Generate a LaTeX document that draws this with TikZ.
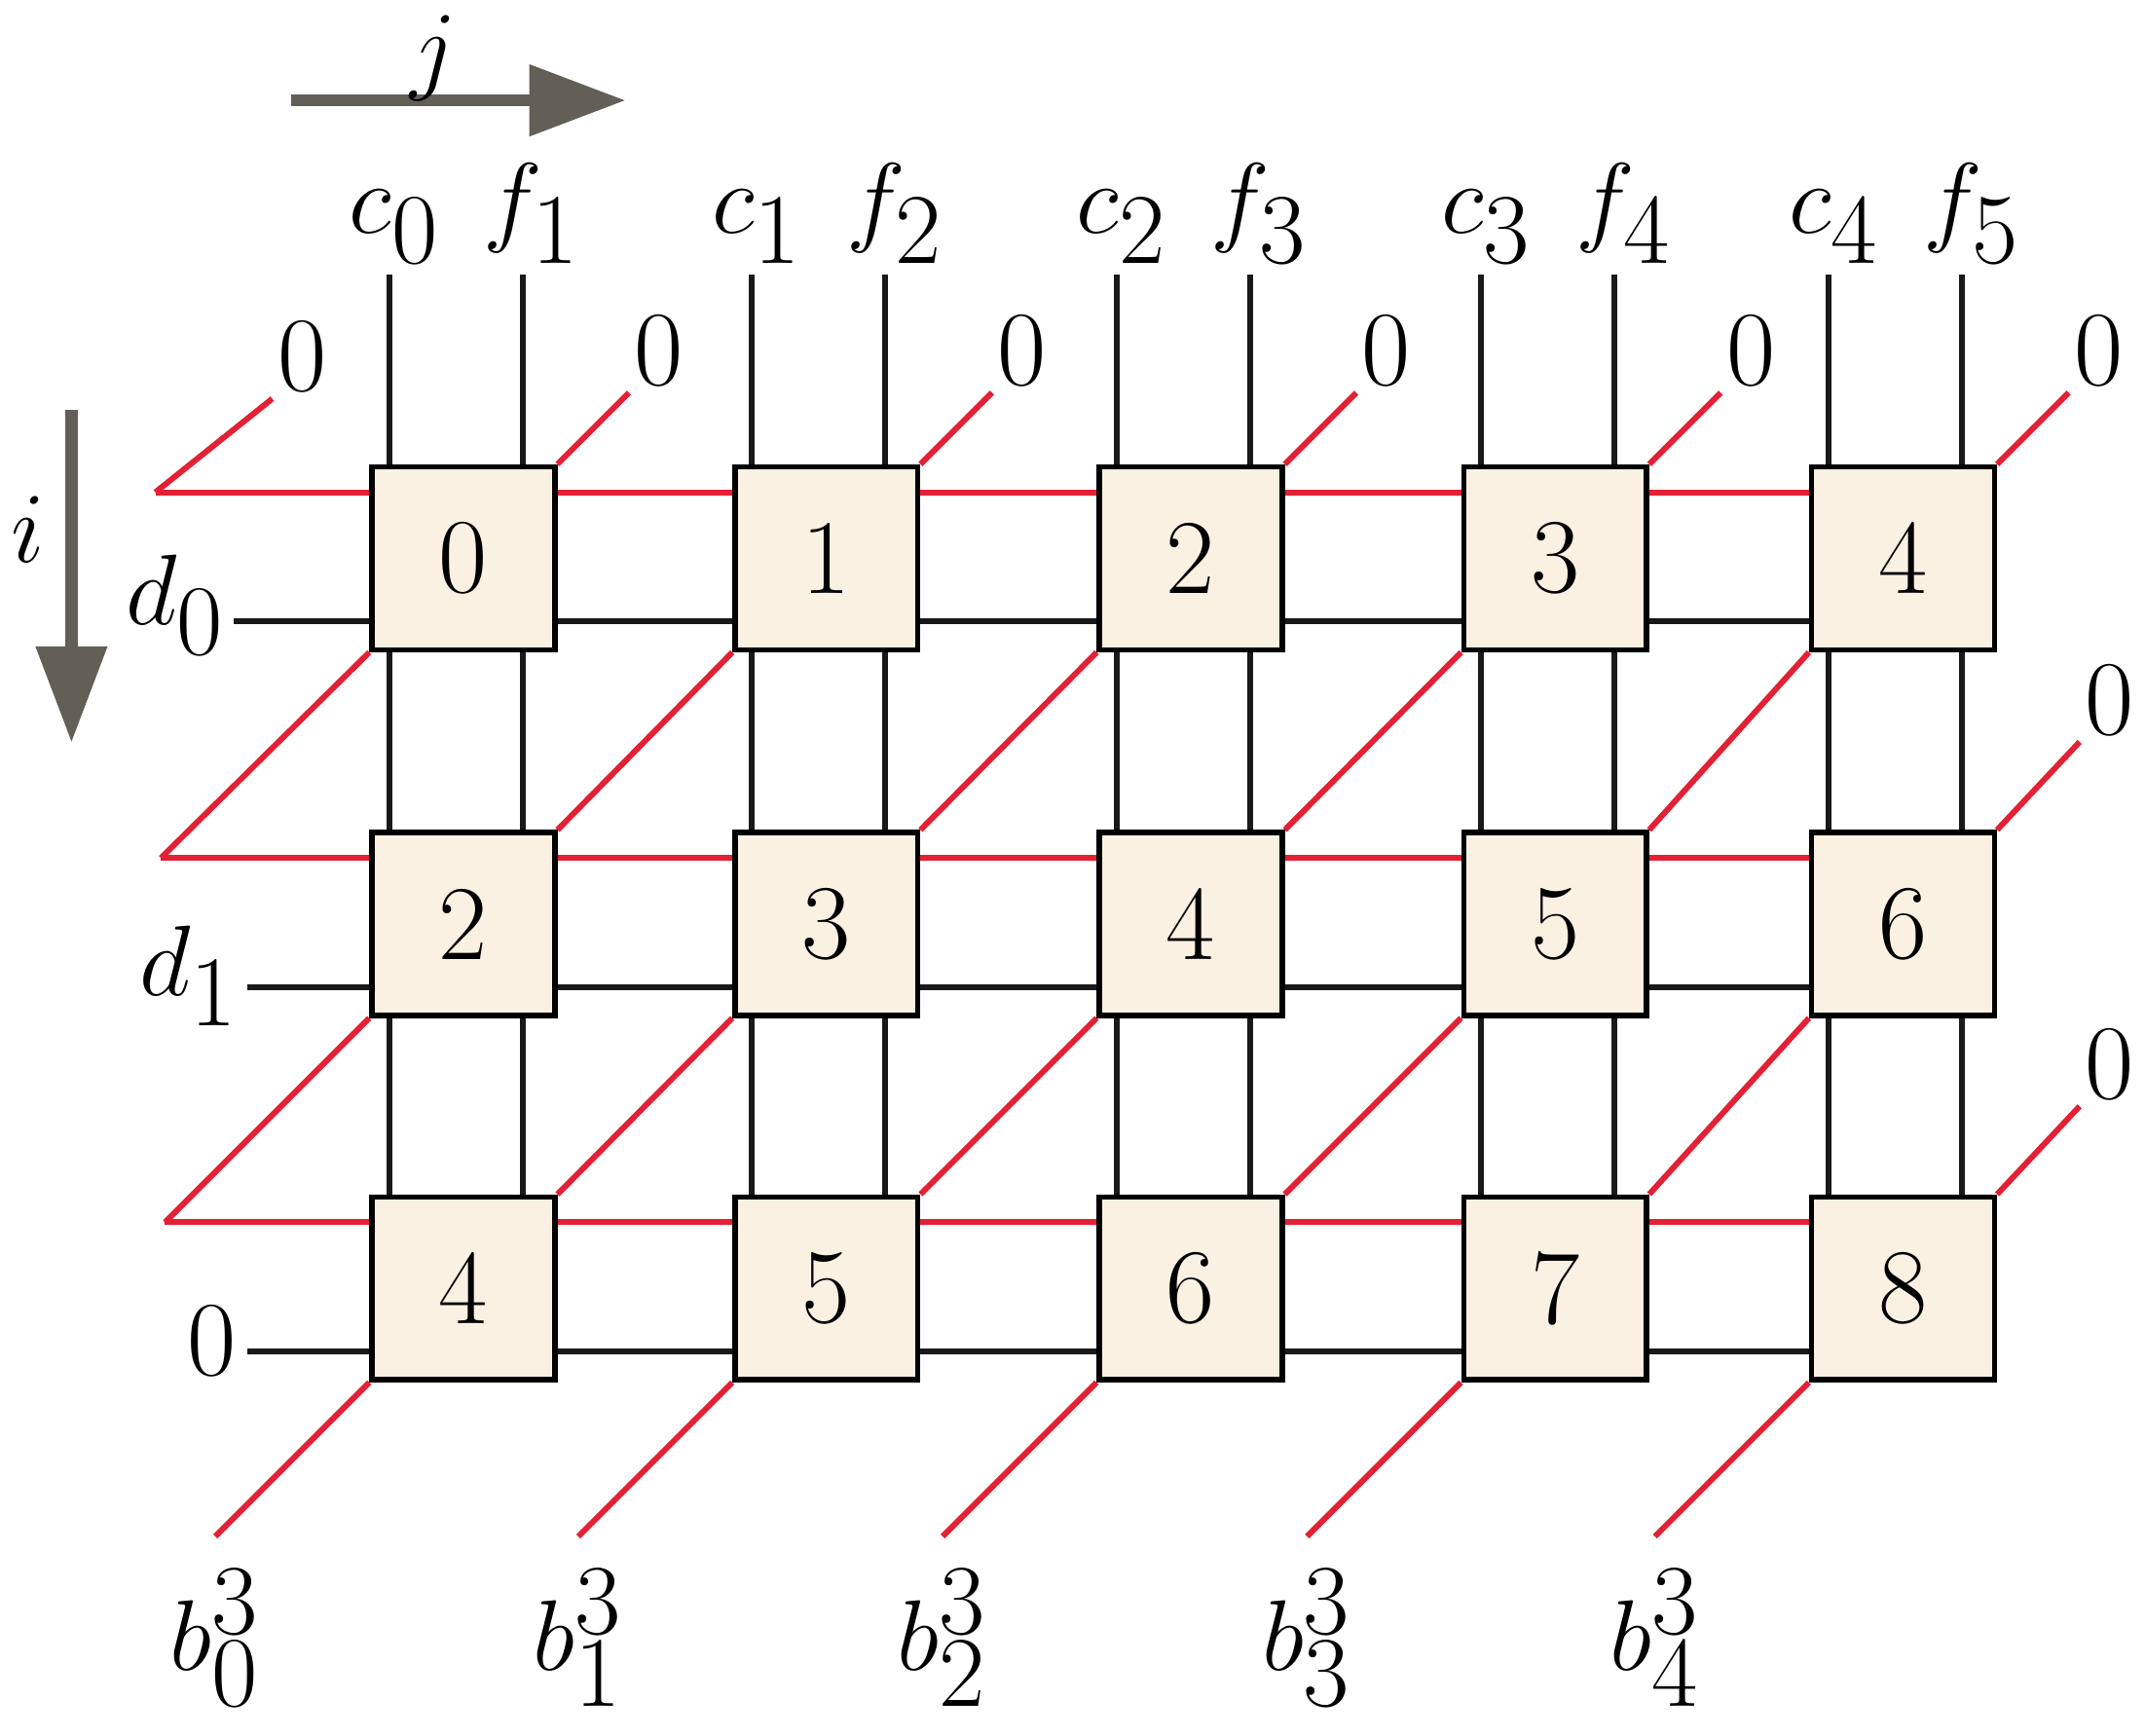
\documentclass[tikz,border=0pt]{standalone}
\usetikzlibrary{arrows.meta,backgrounds}
\definecolor{boxfill}{RGB}{250,241,226}
\definecolor{redw}{RGB}{228,32,52}
\definecolor{arrgray}{RGB}{98,96,86}
\tikzstyle{cell}=[draw,line width=1.1pt,fill=boxfill,minimum size=13.3mm,inner sep=0pt,font=\fontsize{22}{26}\selectfont]
\tikzstyle{wire}=[draw,line width=1.2pt,black!90]
\tikzstyle{rwire}=[draw,line width=1.2pt,redw]
\tikzstyle{lab}=[font=\fontsize{22}{26}\selectfont,inner sep=1pt]
\tikzstyle{dir}=[draw,line width=0.9mm,arrgray,-{Triangle[length=7mm,width=5mm]}]

\begin{document}
\begin{tikzpicture}[x=0.1mm,y=-0.1mm]
                  \useasboundingbox (0,0) rectangle (1560,1262);
                  % index arrows
                  \coordinate (js) at (212,73);
                  \coordinate (je) at (455,73);
                  \coordinate (is) at (52,298);
                  \coordinate (ie) at (52,540);
                  \path[dir] (js) -- (je);
                  \path[dir] (is) -- (ie);
                  \node[lab] (jl) at (315,42) {$j$};
                  \node[lab] (il) at (20,385) {$i$};
                  % the cells
                  \foreach \c/\x in {0/337,1/601,2/866,3/1131,4/1384}
                  \foreach \r/\y in {0/406,1/672,2/937}{
                        \pgfmathtruncatemacro\n{2*\r+\c}
                        \node[cell] (b\r\c) at (\x,\y) {\n};
                  }
                  \begin{scope}[on background layer]
                  % inputs from the top
                  \foreach \c/\x in {0/337,1/601,2/866,3/1131,4/1384}{
                        \pgfmathtruncatemacro\m{\c+1}
                        \coordinate (ct\c) at (\x-54,200);
                        \coordinate (ft\c) at (\x+43,200);
                        \node[lab,anchor=south] (cl\c) at (\x-50,196) {$c_{\textstyle\c}$};
                        \node[lab,anchor=south] (fl\c) at (\x+50,196) {$f_{\textstyle\m}$};
                        \path[wire] (ct\c) -- (ct\c |- b2\c.south);
                        \path[wire] (ft\c) -- (ft\c |- b2\c.south);
                  }
                  % rows
                  \foreach \r/\y/\a/\b in {0/406/170/113,1/672/180/117,2/937/180/120}{
                        \coordinate (dl\r) at (\a,\y+46);
                        \coordinate (rl\r) at (\b,\y-48);
                        \path[wire] (dl\r) -- (b\r4.west |- dl\r);
                        \path[rwire] (rl\r) -- (b\r4.west |- rl\r);
                  }
                  \node[lab,anchor=east] (dn0) at (168,440) {$d_{\textstyle 0}$};
                  \node[lab,anchor=east] (dn1) at (178,710) {$d_{\textstyle 1}$};
                  \node[lab,anchor=east] (dn2) at (176,975) {0};
                  % diagonals between cells
                  \foreach \r/\s in {0/1,1/2}{
                        \path[rwire] (b\r0.south west) -- (rl\s);
                        \foreach \c/\p in {1/0,2/1,3/2,4/3}
                              \path[rwire] (b\r\c.south west) -- (b\s\p.north east);
                  }
                  % zero inputs
                  \coordinate (zl) at (198,290);
                  \path[rwire] (rl0) -- (zl);
                  \node[lab,anchor=south west] (zn) at (zl) {0};
                  \foreach \c in {0,1,2,3,4}{
                        \path (b0\c.north east) ++(52,-52) coordinate (zt\c);
                        \path[rwire] (b0\c.north east) -- (zt\c);
                        \node[lab,anchor=south west] (zl\c) at (zt\c) {0};
                  }
                  \foreach \r in {1,2}{
                        \path (b\r4.north east) ++(60,-64) coordinate (zr\r);
                        \path[rwire] (b\r4.north east) -- (zr\r);
                        \node[lab,anchor=south west] (zrl\r) at (zr\r) {0};
                  }
                  % outputs at the bottom
                  \foreach \c in {0,1,2,3,4}{
                        \path (b2\c.south west) ++(-112,112) coordinate (bo\c);
                        \path[rwire] (b2\c.south west) -- (bo\c);
                        \node[lab,anchor=north] (bl\c) at ([yshift=-2mm]bo\c) {$b^{\textstyle 3}_{\textstyle\c}$};
                  }
                  \end{scope}
            \end{tikzpicture}
\end{document}
